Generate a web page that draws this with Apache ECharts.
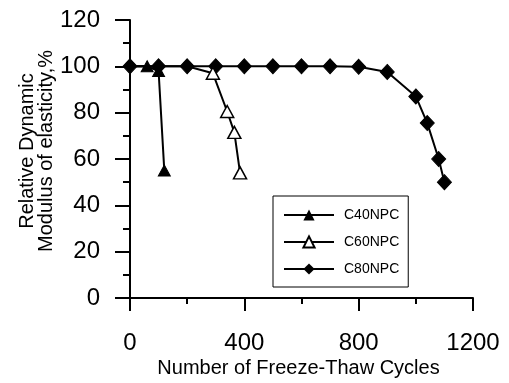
<!DOCTYPE html>
<html>
<head>
<meta charset="utf-8">
<script src="https://cdn.jsdelivr.net/npm/echarts@6/dist/echarts.min.js"></script>
<style>
  html, body { margin: 0; padding: 0; background: #fff; }
  #chart { width: 509px; height: 383px; }
</style>
</head>
<body>
<div id="chart"></div>
<script>
const FONT = "'Liberation Sans', Arial, sans-serif";

// cycles / relative modulus (%)
const c40Cycles = [0, 60, 100, 120];
const c40Values = [100, 100, 98, 55];
const c60Cycles = [0, 200, 290, 340, 365, 385];
const c60Values = [100, 100, 97, 80.5, 71.5, 54];
const c80Cycles = [0, 100, 200, 300, 400, 500, 600, 700, 800, 900, 1000, 1040, 1080, 1100];
const c80Values = [100, 100, 100, 100, 100, 100, 100, 100, 99.8, 97.6, 87, 75.5, 60, 50];

// points hidden under the C80 diamonds: draw the line but no marker
const hiddenC40 = [0];
const hiddenC60 = [0, 200];

function pairs(xs, ys, hidden) {
  return xs.map((x, i) => hidden && hidden.includes(x)
    ? { value: [x, ys[i]], symbol: "none" }
    : [x, ys[i]]);
}

const chart = echarts.init(document.getElementById("chart"));

const lineBase = {
  type: "line",
  color: "#000",
  lineStyle: { color: "#000", width: 2 },
  animation: false,
  z: 2,
};

chart.setOption({
  backgroundColor: "#fff",
  textStyle: { fontFamily: FONT },
  grid: { left: 130, right: 36, top: 20, bottom: 83 },
  legend: {
    orient: "vertical",
    left: 273,
    top: 196,
    padding: [12, 9, 11, 10],
    itemWidth: 50,
    itemHeight: 14,
    itemGap: 13,
    borderColor: "#000",
    borderWidth: 1,
    backgroundColor: "#fff",
    textStyle: { color: "#000", fontSize: 14, fontFamily: FONT, padding: [0, 0, 0, 5] },
    data: ["C40NPC", "C60NPC", "C80NPC"],
  },
  xAxis: {
    type: "value",
    min: 0,
    max: 1200,
    interval: 400,
    name: "Number of Freeze-Thaw Cycles",
    nameLocation: "middle",
    nameGap: 60,
    nameMoveOverlap: false,
    nameTextStyle: { color: "#000", fontSize: 20, fontFamily: FONT, padding: [0, 6, 0, 0] },
    axisLine: { lineStyle: { color: "#000", width: 2 } },
    axisTick: { inside: false, length: 13, lineStyle: { color: "#000", width: 2 } },
    minorTick: { show: true, splitNumber: 2, length: 6, lineStyle: { color: "#000", width: 2 } },
    axisLabel: { color: "#000", fontSize: 24, margin: 33, fontFamily: FONT, formatter: (v) => String(v) },
    splitLine: { show: false },
  },
  yAxis: {
    type: "value",
    min: 0,
    max: 120,
    interval: 20,
    name: "Relative Dynamic\nModulus of elasticity,%",
    nameLocation: "middle",
    nameGap: 74,
    nameMoveOverlap: false,
    nameTextStyle: { color: "#000", fontSize: 20, lineHeight: 19, fontFamily: FONT, padding: [0, 0, 0, 16] },
    axisLine: { show: true, lineStyle: { color: "#000", width: 2 } },
    axisTick: { show: true, inside: false, length: 15, lineStyle: { color: "#000", width: 2 } },
    minorTick: { show: true, splitNumber: 2, length: 7, lineStyle: { color: "#000", width: 2 } },
    axisLabel: { color: "#000", fontSize: 24, margin: 30, fontFamily: FONT },
    splitLine: { show: false },
  },
  series: [
    Object.assign({}, lineBase, {
      name: "C80NPC",
      data: pairs(c80Cycles, c80Values),
      symbol: "diamond",
      symbolSize: [14, 15],
      itemStyle: { color: "#000", borderColor: "#000" },
      z: 3,
    }),
    Object.assign({}, lineBase, {
      name: "C60NPC",
      data: pairs(c60Cycles, c60Values, hiddenC60),
      symbol: "triangle",
      symbolSize: [13, 12],
      itemStyle: { color: "#fff", borderColor: "#000", borderWidth: 1.5 },
      z: 4,
    }),
    Object.assign({}, lineBase, {
      name: "C40NPC",
      data: pairs(c40Cycles, c40Values, hiddenC40),
      symbol: "triangle",
      symbolSize: [12, 11],
      itemStyle: { color: "#000", borderColor: "#000" },
      z: 4,
    }),
  ],
});
</script>
</body>
</html>
